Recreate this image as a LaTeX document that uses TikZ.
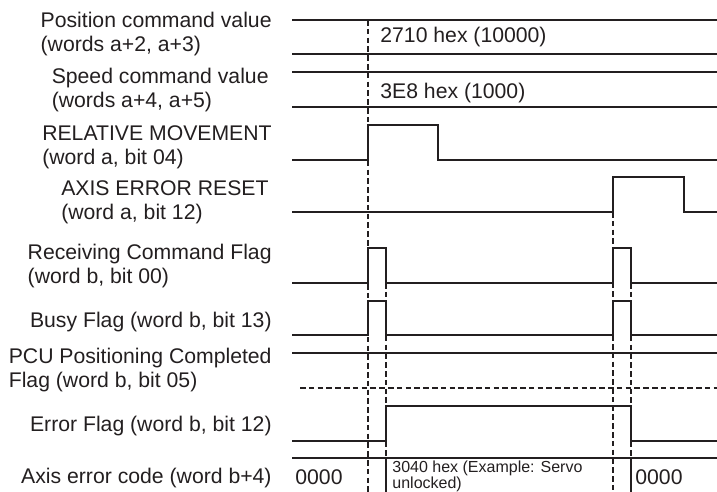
\documentclass[tikz,border=0pt]{standalone}
\usepackage{fontspec}
\setmainfont{Liberation Sans}
\definecolor{inkx}{HTML}{231F20}
\tikzset{
  sig/.style={inkx,line width=0.7pt},
  guide/.style={inkx,line width=0.55pt,dash pattern=on 2.8pt off 1.6pt},
  lbl/.style={anchor=east,align=left,inner sep=0pt,text=inkx,font=\fontsize{10.6}{11.8}\selectfont},
  val/.style={anchor=west,inner sep=0pt,text=inkx,font=\fontsize{10.6}{11.8}\selectfont}
}
% two level lines of a data word
\newcommand{\word}[2]{%
  \draw[sig] (292,#1)--(717,#1);
  \draw[sig] (292,#2)--(717,#2);}

\begin{document}
\begin{tikzpicture}[x=0.5pt,y=-0.5pt]
\useasboundingbox (0,0) rectangle (717,492);
% labels
\node[lbl] (lpos) at (272,34) {Position command value\\(words a+2, a+3)};
\node[lbl] (lspd) at (269,90) {Speed command value\\(words a+4, a+5)};
\node[lbl] (lrel) at (272,147) {RELATIVE MOVEMENT\\(word a, bit 04)};
\node[lbl] (lrst) at (269,202) {AXIS ERROR RESET\\(word a, bit 12)};
\node[lbl] (lrcv) at (272,266) {Receiving Command Flag\\(word b, bit 00)};
\node[lbl] (lbsy) at (272,322) {Busy Flag (word b, bit 13)};
\node[lbl] (lpcu) at (272,370) {PCU Positioning Completed\\Flag (word b, bit 05)};
\node[lbl] (lerr) at (272,426) {Error Flag (word b, bit 12)};
\node[lbl] (lcod) at (272,478) {Axis error code (word b+4)};
% guide lines
\draw[guide] (368,20)--(368,492);
\draw[guide] (386,283)--(386,492);
\draw[guide] (613,212)--(613,492);
\draw[guide] (631,283)--(631,492);
\draw[guide] (300,388)--(717,388);
% signals
\word{20}{54}
\word{72}{107}
\draw[sig] (292,160)--(368,160)--(368,125)--(438,125)--(438,160)--(717,160);
\draw[sig] (292,212)--(613,212)--(613,177)--(684,177)--(684,212)--(717,212);
\foreach \lo/\hi in {283/248,335/301}
  \draw[sig] (292,\lo)--(368,\lo)--(368,\hi)--(386,\hi)--(386,\lo)--(613,\lo)
    --(613,\hi)--(631,\hi)--(631,\lo)--(717,\lo);
\draw[sig] (292,353)--(717,353);
\draw[sig] (292,441)--(386,441)--(386,406)--(631,406)--(631,441)--(717,441);
\draw[sig] (292,458)--(717,458);
\draw[sig] (386,458)--(386,492);
\draw[sig] (631,458)--(631,492);
% values
\node[val] (vpos) at (380,37) {2710 hex (10000)};
\node[val] (vspd) at (380,93) {3E8 hex (1000)};
\node[val] (vold) at (295,477) {0000};
\node[val] (vnew) at (635,477) {0000};
\node[val,anchor=north west,align=left,font=\fontsize{8}{7.6}\selectfont] (verr) at (392,461)
  {3040 hex (Example: Servo\\unlocked)};
\end{tikzpicture}
\end{document}
